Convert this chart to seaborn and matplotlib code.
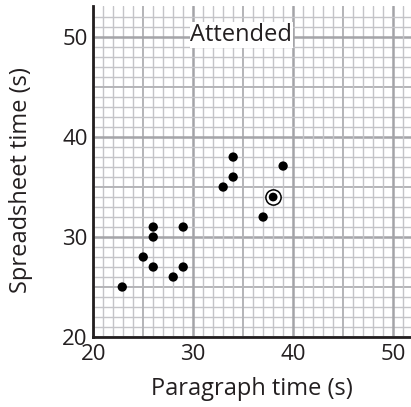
import numpy as np
import pandas as pd
import seaborn as sns
import matplotlib.pyplot as plt

# attended group: paragraph vs spreadsheet time
paragraph_time = [22.9, 25, 26, 26, 26, 28, 29, 29, 33, 34, 34, 37, 39]
spreadsheet_time = [25, 28, 31, 30, 27, 26, 31, 27, 35, 36, 38, 32, 37.1]
# highlighted point (ringed)
ring_x = [38]
ring_y = [34]

panel_title = 'Attended'
x_ticks = [20, 30, 40, 50]
y_ticks = [20, 30, 40, 50]

sns.set_style('white')
plt.rcParams['font.family'] = ['Open Sans', 'DejaVu Sans']
ink = '#231f20'

df = pd.DataFrame({'paragraph': paragraph_time, 'spreadsheet': spreadsheet_time})

fig = plt.figure(figsize=(4.11, 4.07), dpi=100)
ax = fig.add_axes([0.227, 0.172, 0.773, 0.813])

# graph paper grid: 1, 5 and 10 unit lines
xmin, xmax = 20, 51.8
ymin, ymax = 20, 53.1
for v in np.arange(20, 53, 1):
    if v % 10 == 0:
        c, lw = '#a4a4a8', 1.8
    elif v % 5 == 0:
        c, lw = '#b4b4b8', 1.4
    else:
        c, lw = '#c4c4c8', 1.0
    ax.axvline(v, color=c, lw=lw, zorder=0)
    ax.axhline(v, color=c, lw=lw, zorder=0)

sns.scatterplot(data=df, x='paragraph', y='spreadsheet', ax=ax, color='black',
                s=45, edgecolor='none', zorder=3, legend=False)
ax.scatter(ring_x, ring_y, s=120, facecolor='white', edgecolor='black', linewidth=1.1, zorder=3)
ax.scatter(ring_x, ring_y, s=40, color='black', edgecolor='none', zorder=4)

ax.text(34.8, 50.2, panel_title, ha='center', va='center', fontsize=17, color=ink,
        bbox=dict(facecolor='white', edgecolor='none', pad=0.5), zorder=5)

ax.set_xlim(xmin, xmax)
ax.set_ylim(ymin, ymax)
ax.set_xticks(x_ticks)
ax.set_yticks(y_ticks)
ax.tick_params(length=0, labelsize=16, labelcolor=ink)
ax.tick_params(axis='x', pad=5)
ax.tick_params(axis='y', pad=4)
ax.set_xlabel('Paragraph time (s)', fontsize=17, color=ink, labelpad=9)
ax.set_ylabel('Spreadsheet time (s)', fontsize=17, color=ink)
ax.yaxis.set_label_coords(-0.19, 0.474)

for side in ['top', 'right']:
    ax.spines[side].set_visible(False)
for side in ['left', 'bottom']:
    ax.spines[side].set_linewidth(2)
    ax.spines[side].set_color(ink)
    ax.spines[side].set_zorder(6)

fig.savefig('out.png', dpi=100)
